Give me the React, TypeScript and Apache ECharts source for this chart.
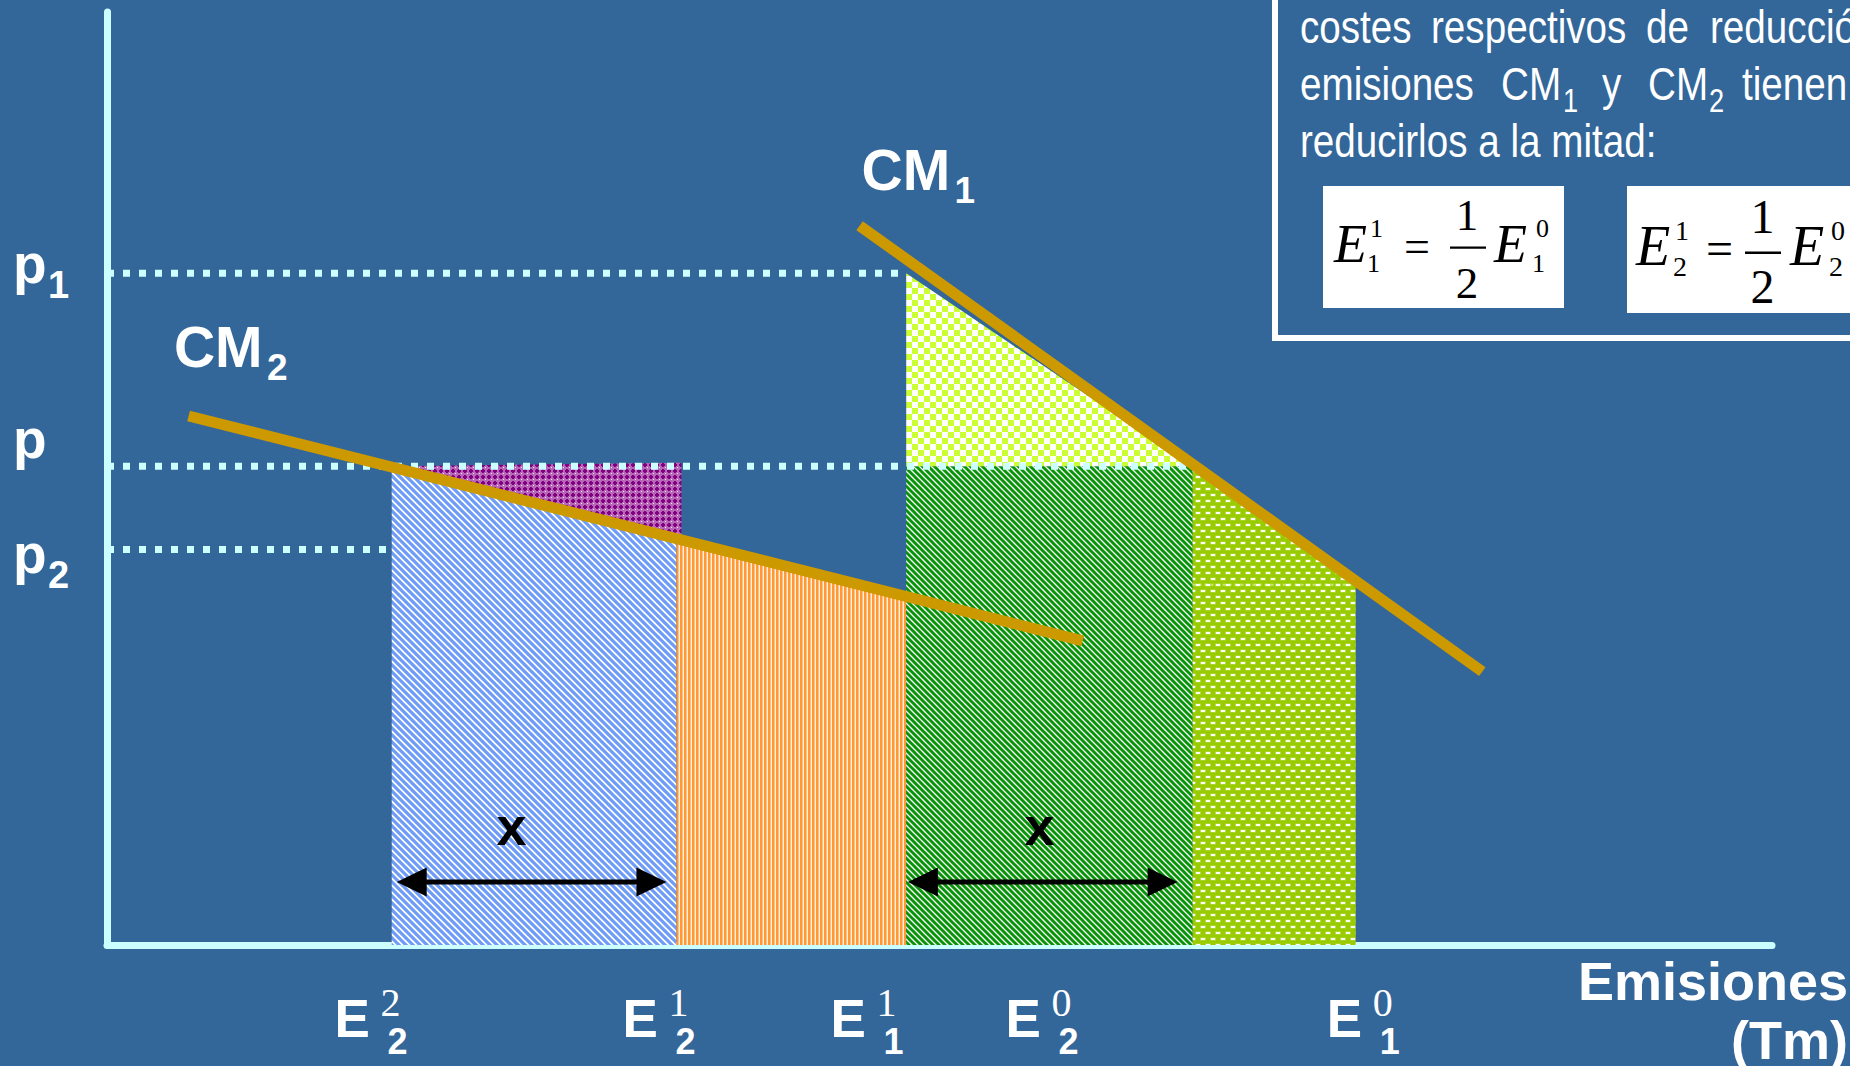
import React, { useEffect, useRef } from 'react';
import * as echarts from 'echarts';

// ---------------- data (abstract units: emissions 0-100, price 0-100) ----------------
const emissionLevels = [17.1, 34.2, 48.0, 65.2, 75.0]; // E2^2, E2^1, E1^1, E2^0, E1^0 boundaries
const priceLevels = [72.0, 51.3, 42.4]; // p1, p, p2
const priceLineEnds = [48.0, 65.2, 16.9]; // where each dotted price line stops
const cm1Line = [[45.2, 77.1], [82.6, 29.3]];
const cm2Line = [[4.9, 56.7], [58.6, 32.6]];
const faintLevel = 38.6;
const faintSpan = [65.2, 75.0];

// shaded areas (vertices)
const areaE22toE21 = [[17.1, 0], [17.1, 51.2], [34.2, 43.5], [34.2, 0]];
const areaTriangle2 = [[17.1, 51.3], [34.5, 51.7], [34.5, 43.4]];
const areaE21toE11 = [[34.2, 0], [34.2, 43.5], [48.0, 37.3], [48.0, 0]];
const areaE11toE20 = [[48.0, 0], [48.0, 51.3], [65.2, 51.3], [65.2, 0]];
const areaTriangle1 = [[48.0, 72.0], [48.0, 51.3], [65.2, 51.3]];
const areaE20toE10 = [[65.2, 0], [65.2, 51.3], [75.0, 38.6], [75.0, 0]];

const arrowSpans = [[17.4, 33.6], [48.1, 64.3]];
const arrowLevel = 6.75;
const arrowLabels = ['x', 'x'];
const arrowLabelAt = [24.3, 56.0];

// tick labels
const xTickBase = ['E', 'E', 'E', 'E', 'E'];
const xTickSup = ['2', '1', '1', '0', '0'];
const xTickSub = ['2', '2', '1', '2', '1'];
const xTickAt = [13.9, 31.2, 43.7, 54.2, 73.5];
const yTickBase = ['p', 'p', 'p'];
const yTickSub = ['1', '', '2'];
const yTickAt = [70.95, 52.2, 39.9];

const curveNames = ['CM', 'CM'];
const curveSubs = ['1', '2'];
const curveLabelAt = [[45.5, 80.9], [4.2, 61.95]];

const axisTitle = ['Emisiones', '(Tm)'];
const boxLine1 = ['costes', 'respectivos', 'de', 'reducción'];
const boxLine3 = 'reducirlos a la mitad:';

const SANS = '"Liberation Sans", Arial, sans-serif';
const SERIF = '"Liberation Serif", "Times New Roman", serif';

function tile(w: number, h: number, draw: (ctx: CanvasRenderingContext2D) => void) {
  const c = document.createElement('canvas');
  c.width = w;
  c.height = h;
  const ctx = c.getContext('2d') as CanvasRenderingContext2D;
  draw(ctx);
  return { image: c.toDataURL(), repeat: 'repeat', imageWidth: w, imageHeight: h };
}

function stripes(s: number, bg: string, fg: string, lw: number) {
  return tile(s, s, (ctx) => {
    ctx.fillStyle = bg;
    ctx.fillRect(0, 0, s, s);
    ctx.strokeStyle = fg;
    ctx.lineWidth = lw;
    ctx.beginPath();
    for (const k of [-s, 0, s]) {
      ctx.moveTo(k - 1, -1);
      ctx.lineTo(k + s + 1, s + 1);
    }
    ctx.stroke();
  });
}

type TOpts = { bold?: boolean; italic?: boolean; serif?: boolean; fill?: string; align?: string; scaleX?: number };
function T(x: number, baseline: number, text: string, size: number, o: TOpts = {}) {
  const fam = o.serif ? SERIF : SANS;
  const k = o.serif ? 0.3375 : 0.3465;
  const font = `${o.italic ? 'italic ' : ''}${o.bold ? 'bold ' : ''}${size}px ${fam}`;
  return {
    type: 'text',
    x,
    y: baseline - k * size,
    scaleX: o.scaleX ?? 1,
    silent: true,
    z: 100,
    style: {
      text,
      font,
      fill: o.fill ?? '#ffffff',
      align: o.align ?? 'left',
      verticalAlign: 'middle',
    },
  };
}

export default function App() {
  const ref = useRef<HTMLDivElement>(null);
  useEffect(() => {
    const chart = echarts.init(ref.current as HTMLDivElement, null, { renderer: 'svg' });

    const pat = {
      blue: stripes(7, '#ffffff', '#6f9cf6', 3.2),
      green: stripes(6, '#ffffff', '#089408', 3.0),
      orange: tile(4, 2, (ctx) => {
        ctx.fillStyle = '#ff9933'; ctx.fillRect(0, 0, 2, 2);
        ctx.fillStyle = '#ffc080'; ctx.fillRect(2, 0, 1, 2);
        ctx.fillStyle = '#fff1e2'; ctx.fillRect(3, 0, 1, 2);
      }),
      lime: tile(12, 12, (ctx) => {
        ctx.fillStyle = '#ffffff'; ctx.fillRect(0, 0, 12, 12);
        ctx.fillStyle = '#ccff33'; ctx.fillRect(0, 0, 6, 6); ctx.fillRect(6, 6, 6, 6);
      }),
      yg: tile(10, 12, (ctx) => {
        ctx.fillStyle = '#99cc00'; ctx.fillRect(0, 0, 10, 12);
        ctx.fillStyle = 'rgba(255,255,255,0.3)';
        ctx.fillRect(0, 1.5, 6, 3); ctx.fillRect(5, 7.5, 6, 3); ctx.fillRect(-5, 7.5, 6, 3);
        ctx.fillStyle = 'rgba(255,255,255,0.95)';
        ctx.fillRect(1, 2, 4, 2); ctx.fillRect(6, 8, 4, 2); ctx.fillRect(-4, 8, 4, 2);
      }),
      pink: tile(6, 6, (ctx) => {
        ctx.fillStyle = '#b866b8'; ctx.fillRect(0, 0, 6, 6);
        ctx.fillStyle = '#800080'; ctx.fillRect(1, 2, 4, 2); ctx.fillRect(2, 1, 2, 4);
        ctx.fillStyle = 'rgba(255,235,255,0.95)'; ctx.fillRect(5, 5, 1, 1);
      }),
    };

    const regions = [
      { pts: areaE22toE21, fill: pat.blue },
      { pts: areaTriangle2, fill: pat.pink },
      { pts: areaE21toE11, fill: pat.orange },
      { pts: areaE11toE20, fill: pat.green },
      { pts: areaTriangle1, fill: pat.lime },
      { pts: areaE20toE10, fill: pat.yg },
    ];

    const dotted = priceLevels.map((p, i) => ({
      type: 'line',
      data: [[0, p], [priceLineEnds[i], p]],
      symbol: 'none',
      silent: true,
      z: 3,
      lineStyle: { color: '#ccffff', width: 7, type: [7, 9], cap: 'butt' },
    }));

    const cmSeries = [cm1Line, cm2Line].map((d) => ({
      type: 'line',
      data: d,
      symbol: 'none',
      silent: true,
      z: 5,
      lineStyle: { color: '#cc9900', width: 11, cap: 'butt' },
    }));

    chart.setOption({
      animation: false,
      backgroundColor: '#336699',
      grid: { left: 107, right: 78, top: 12, bottom: 121, containLabel: false, outerBoundsMode: 'none' },
      xAxis: {
        type: 'value', min: 0, max: 100,
        axisLine: { show: true, onZero: false, lineStyle: { color: '#ccffff', width: 7 } },
        axisTick: { show: false }, axisLabel: { show: false }, splitLine: { show: false },
      },
      yAxis: {
        type: 'value', min: 0, max: 100,
        axisLine: { show: true, onZero: false, lineStyle: { color: '#ccffff', width: 7 } },
        axisTick: { show: false }, axisLabel: { show: false }, splitLine: { show: false },
      },
      series: [
        {
          type: 'custom',
          coordinateSystem: 'cartesian2d',
          silent: true,
          clip: false,
          z: 2,
          data: regions.map((r) => r.pts[0]),
          renderItem: (params: any, api: any) => {
            const r = regions[params.dataIndex];
            return {
              type: 'polygon',
              shape: { points: r.pts.map((p) => api.coord(p)) },
              style: { fill: r.fill as any, stroke: null },
            };
          },
        },
        ...dotted,
        {
          type: 'line',
          data: [[faintSpan[0], faintLevel], [faintSpan[1], faintLevel]],
          symbol: 'none',
          silent: true,
          z: 3,
          lineStyle: { color: 'rgba(230,255,200,0.55)', width: 2, type: [3, 3] },
        },
        ...cmSeries,
        {
          type: 'custom',
          coordinateSystem: 'cartesian2d',
          silent: true,
          clip: false,
          z: 6,
          data: arrowSpans.map((s) => [s[0], arrowLevel, s[1]]),
          renderItem: (params: any, api: any) => {
            const a = api.coord([api.value(0), api.value(1)]);
            const b = api.coord([api.value(2), api.value(1)]);
            const hl = 30;
            const hw = 14.5;
            return {
              type: 'group',
              children: [
                { type: 'line', shape: { x1: a[0] + hl - 2, y1: a[1], x2: b[0] - hl + 2, y2: b[1] }, style: { stroke: '#000', lineWidth: 5 } },
                { type: 'polygon', shape: { points: [[a[0], a[1]], [a[0] + hl, a[1] - hw], [a[0] + hl, a[1] + hw]] }, style: { fill: '#000' } },
                { type: 'polygon', shape: { points: [[b[0], b[1]], [b[0] - hl, b[1] - hw], [b[0] - hl, b[1] + hw]] }, style: { fill: '#000' } },
              ],
            };
          },
        },
      ],
    });

    const toPx = (x: number, y: number) => chart.convertToPixel({ xAxisIndex: 0, yAxisIndex: 0 }, [x, y]) as number[];

    const g: any[] = [];
    // x tick labels
    xTickAt.forEach((v, i) => {
      const x = toPx(v, 0)[0];
      g.push(T(x - 4, 1037, xTickBase[i], 53, { bold: true }));
      g.push(T(x + 42, 1016, xTickSup[i], 40, { serif: true }));
      g.push(T(x + 49, 1054, xTickSub[i], 36, { bold: true }));
    });
    // y tick labels
    yTickAt.forEach((v, i) => {
      const y = toPx(0, v)[1];
      g.push(T(13, y, yTickBase[i], 55, { bold: true }));
      if (yTickSub[i]) g.push(T(48, y + 15, yTickSub[i], 38, { bold: true }));
    });
    // curve labels
    curveLabelAt.forEach((pos, i) => {
      const p = toPx(pos[0], pos[1]);
      g.push(T(p[0] - 3, p[1], curveNames[i], 57, { bold: true }));
      g.push(T(p[0] + 90, p[1] + 13, curveSubs[i], 37, { bold: true }));
    });
    // arrow labels
    arrowLabelAt.forEach((v, i) => {
      const p = toPx(v, arrowLevel);
      g.push(T(p[0], p[1] - 37, arrowLabels[i], 54, { bold: true, fill: '#000', align: 'center' }));
    });
    // axis title
    g.push(T(1848, 1000, axisTitle[0], 54, { bold: true, align: 'right' }));
    g.push(T(1848, 1059, axisTitle[1], 54, { bold: true, align: 'right' }));

    // annotation box
    g.push({ type: 'rect', silent: true, z: 90, shape: { x: 1275, y: -20, width: 700, height: 358 }, style: { fill: 'none', stroke: '#ffffff', lineWidth: 6 } });
    g.push({ type: 'rect', silent: true, z: 91, shape: { x: 1323, y: 186, width: 241, height: 122 }, style: { fill: '#ffffff' } });
    g.push({ type: 'rect', silent: true, z: 91, shape: { x: 1627, y: 186, width: 260, height: 127 }, style: { fill: '#ffffff' } });

    const bs = 46;
    const sx = 0.84;
    const l1x = [1300, 1431, 1646, 1710];
    boxLine1.forEach((w, i) => g.push(T(l1x[i], 43, w, bs, { scaleX: sx })));
    g.push(T(1300, 100, 'emisiones', bs, { scaleX: sx }));
    g.push(T(1501, 100, 'CM', bs, { scaleX: sx }));
    g.push(T(1563, 112, '1', 34, { scaleX: 0.8 }));
    g.push(T(1602, 100, 'y', bs, { scaleX: sx }));
    g.push(T(1648, 100, 'CM', bs, { scaleX: sx }));
    g.push(T(1709, 112, '2', 34, { scaleX: 0.8 }));
    g.push(T(1742, 100, 'tienen', bs, { scaleX: sx }));
    g.push(T(1300, 157, boxLine3, bs, { scaleX: sx }));

    // formula 1
    const blk = { serif: true, fill: '#000000' };
    g.push(T(1334, 262, 'E', 54, { ...blk, italic: true }));
    g.push(T(1370, 237, '1', 26, blk));
    g.push(T(1367, 272, '1', 26, blk));
    g.push(T(1404, 262, '=', 46, blk));
    g.push(T(1467, 230, '1', 45, { ...blk, align: 'center' }));
    g.push({ type: 'rect', silent: true, z: 100, shape: { x: 1450, y: 246.5, width: 36, height: 2.2 }, style: { fill: '#000' } });
    g.push(T(1467, 298, '2', 45, { ...blk, align: 'center' }));
    g.push(T(1494, 262, 'E', 54, { ...blk, italic: true }));
    g.push(T(1536, 237, '0', 26, blk));
    g.push(T(1532, 272, '1', 26, blk));
    // formula 2
    g.push(T(1636, 265, 'E', 56, { ...blk, italic: true }));
    g.push(T(1675, 240, '1', 28, blk));
    g.push(T(1673, 276, '2', 28, blk));
    g.push(T(1706, 265, '=', 48, blk));
    g.push(T(1762.5, 233, '1', 48, { ...blk, align: 'center' }));
    g.push({ type: 'rect', silent: true, z: 100, shape: { x: 1745, y: 251.5, width: 36, height: 2.4 }, style: { fill: '#000' } });
    g.push(T(1762.5, 303, '2', 48, { ...blk, align: 'center' }));
    g.push(T(1790, 265, 'E', 56, { ...blk, italic: true }));
    g.push(T(1831, 240, '0', 28, blk));
    g.push(T(1829, 276, '2', 28, blk));

    chart.setOption({ graphic: g });

    return () => chart.dispose();
  }, []);

  return <div ref={ref} style={{ position: 'fixed', left: 0, top: 0, width: 1850, height: 1066 }} />;
}
